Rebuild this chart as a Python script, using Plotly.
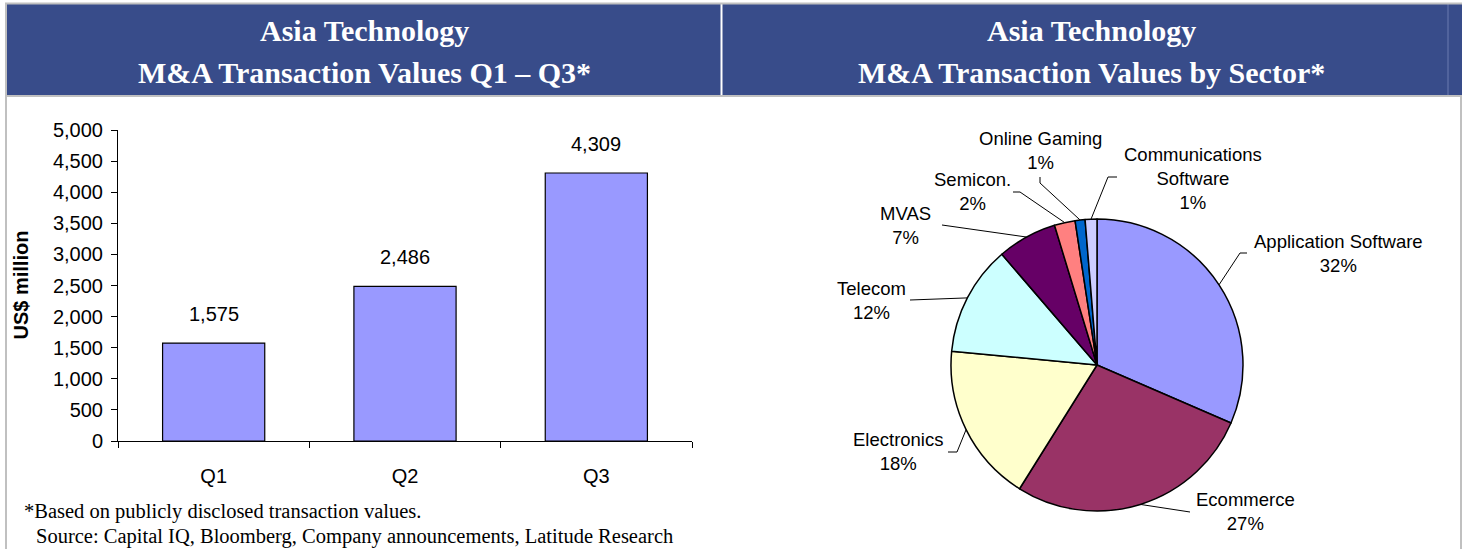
import math
import plotly.graph_objects as go

# ---------------- data ----------------
quarters = ["Q1", "Q2", "Q3"]
deal_values = [1575, 2486, 4309]  # US$ million

sectors = ["Application Software", "Ecommerce", "Electronics", "Telecom",
           "MVAS", "Semicon.", "Online Gaming", "Communications Software"]
sector_share = [31.5, 27.4, 17.6, 12.2, 6.6, 2.3, 1.1, 1.3]
sector_colors = ["#9999FF", "#993366", "#FFFFCC", "#CCFFFF",
                 "#660066", "#FF8080", "#0066CC", "#CCCCFF"]

y_ticks = list(range(0, 5001, 500))

# ---------------- layout helpers ----------------
W, H = 1466, 549
def X(px):
    return px / W
def Y(py):
    return 1 - py / H

SANS = "Arial, Liberation Sans, sans-serif"
SERIF = "Times New Roman, Liberation Serif, serif"
HEADER_BLUE = "#384C8A"
BORDER = "#C0C0C0"

fig = go.Figure()

# ---------------- bar chart ----------------
fig.add_trace(go.Bar(
    x=quarters, y=deal_values,
    marker=dict(color="#9999FF", line=dict(color="black", width=1.2)),
    xaxis="x", yaxis="y", hoverinfo="x+y", showlegend=False,
))

bar_x0, bar_x1, bar_ytop, bar_ybot = 118, 692, 130, 441

# ---------------- pie chart ----------------
cx, cy, R = 1097, 365, 146
fig.add_trace(go.Pie(
    labels=sectors, values=sector_share,
    marker=dict(colors=sector_colors, line=dict(color="black", width=1.5)),
    sort=False, direction="clockwise", rotation=0,
    textinfo="none", hoverinfo="label+percent", showlegend=False,
    domain=dict(x=[X(cx - R), X(cx + R)], y=[Y(cy + R), Y(cy - R)]),
))

# ---------------- shapes (frame + header) ----------------
shapes = []
shapes.append(dict(type="rect", xref="paper", yref="paper",
                   x0=X(6), x1=X(1462), y0=Y(95), y1=Y(4),
                   fillcolor=HEADER_BLUE, line=dict(width=0), layer="below"))
shapes.append(dict(type="line", xref="paper", yref="paper",
                   x0=X(721.5), x1=X(721.5), y0=Y(95), y1=Y(4),
                   line=dict(color="white", width=2)))
shapes.append(dict(type="line", xref="paper", yref="paper",
                   x0=X(1448), x1=X(1448), y0=Y(95), y1=Y(4),
                   line=dict(color="#6A7AB0", width=1)))
# border lines
shapes.append(dict(type="line", xref="paper", yref="paper",
                   x0=X(5), x1=X(1462), y0=Y(3.5), y1=Y(3.5),
                   line=dict(color=BORDER, width=2)))
shapes.append(dict(type="line", xref="paper", yref="paper",
                   x0=X(6), x1=X(6), y0=Y(549), y1=Y(3),
                   line=dict(color=BORDER, width=2)))
shapes.append(dict(type="line", xref="paper", yref="paper",
                   x0=X(6), x1=X(1462), y0=Y(96), y1=Y(96),
                   line=dict(color=BORDER, width=2)))
shapes.append(dict(type="line", xref="paper", yref="paper",
                   x0=X(1461), x1=X(1461), y0=Y(549), y1=Y(96),
                   line=dict(color=BORDER, width=2)))

# ---------------- pie labels with leader lines ----------------
label_layout = {
    # name: (text centre px, elbow points from label side)
    "Application Software": ((1338, 254), [(1247, 253), (1240, 253)]),
    "Ecommerce": ((1245, 511), [(1190, 512)]),
    "Electronics": ((898, 451), [(948, 452), (957, 452)]),
    "Telecom": ((871, 300), [(910, 300)]),
    "MVAS": ((905, 226), [(942, 225)]),
    "Semicon.": ((972, 191), [(1013, 192), (1020, 192)]),
    "Online Gaming": ((1040, 150), [(1040, 177), (1040, 183)]),
    "Communications Software": ((1193, 178), [(1117, 177), (1108, 177)]),
}

total = sum(sector_share)
annotations = []
cum = 0.0
for name, val in zip(sectors, sector_share):
    mid = (cum + val / 2) / total
    cum += val
    ang = 2 * math.pi * mid
    ex, ey = cx + R * math.sin(ang), cy - R * math.cos(ang)
    (tx, ty), elbows = label_layout[name]
    pts = elbows + [(ex, ey)]
    path = "M {} {}".format(X(pts[0][0]), Y(pts[0][1]))
    for p in pts[1:]:
        path += " L {} {}".format(X(p[0]), Y(p[1]))
    shapes.append(dict(type="path", xref="paper", yref="paper", path=path,
                       line=dict(color="black", width=1)))
    pct = round(val / total * 100)
    label_text = "Communications<br>Software" if name == "Communications Software" else name
    annotations.append(dict(
        x=X(tx), y=Y(ty), xref="paper", yref="paper",
        text="{}<br>{}%".format(label_text, pct), showarrow=False,
        xanchor="center", yanchor="middle", align="center",
        font=dict(family=SANS, size=18.5, color="black"),
    ))

# ---------------- bar value labels ----------------
for q, v in zip(quarters, deal_values):
    annotations.append(dict(
        x=q, y=v, xref="x", yref="y", text="{:,}".format(v),
        showarrow=False, yanchor="bottom", yshift=16,
        font=dict(family=SANS, size=20, color="black"),
    ))

# y-axis title
annotations.append(dict(
    x=X(20), y=Y((bar_ytop + bar_ybot) / 2), xref="paper", yref="paper",
    text="<b>US$ million</b>", textangle=-90, showarrow=False,
    xanchor="center", yanchor="middle",
    font=dict(family=SANS, size=20, color="black"),
))

# headers
for xc, lines in [(364, ["Asia Technology", "M&A Transaction Values Q1 \u2013 Q3*"]),
                  (1091, ["Asia Technology", "M&A Transaction Values by Sector*"])]:
    for yc, t in zip([31, 72], lines):
        annotations.append(dict(
            x=X(xc), y=Y(yc), xref="paper", yref="paper",
            text="<b>{}</b>".format(t), showarrow=False,
            xanchor="center", yanchor="middle",
            font=dict(family=SERIF, size=30, color="white"),
        ))

# footnotes
annotations.append(dict(
    x=X(22), y=Y(511), xref="paper", yref="paper",
    text="*Based on publicly disclosed transaction values.", showarrow=False,
    xanchor="left", yanchor="middle",
    font=dict(family=SERIF, size=20.5, color="black"),
))
annotations.append(dict(
    x=X(34), y=Y(536), xref="paper", yref="paper",
    text="Source: Capital IQ, Bloomberg, Company announcements, Latitude Research",
    showarrow=False, xanchor="left", yanchor="middle",
    font=dict(family=SERIF, size=20.5, color="black"),
))

fig.update_layout(
    width=W, height=H,
    margin=dict(l=0, r=0, t=0, b=0, pad=0, autoexpand=False),
    paper_bgcolor="white", plot_bgcolor="white",
    bargap=0.466,
    xaxis=dict(domain=[X(bar_x0), X(bar_x1)], anchor="y",
               showline=True, linecolor="black", linewidth=1,
               ticks="outside", ticklen=6, tickcolor="black", tickson="boundaries",
               showgrid=False, zeroline=False, automargin=False,
               tickfont=dict(family=SANS, size=20, color="black"),
               ticklabelstandoff=17, fixedrange=True),
    yaxis=dict(domain=[Y(bar_ybot), Y(bar_ytop)], anchor="x",
               range=[0, 5000], tickvals=y_ticks,
               ticktext=["{:,}".format(t) for t in y_ticks],
               showline=True, linecolor="black", linewidth=1,
               ticks="outside", ticklen=6, tickcolor="black",
               showgrid=False, zeroline=False, automargin=False,
               tickfont=dict(family=SANS, size=20, color="black"),
               ticklabelstandoff=4, fixedrange=True),
    shapes=shapes,
    annotations=annotations,
)

fig.write_html(
    "out.html",
    config={"displayModeBar": False},
    post_script="document.body.style.margin='0';document.body.style.overflow='hidden';",
)
